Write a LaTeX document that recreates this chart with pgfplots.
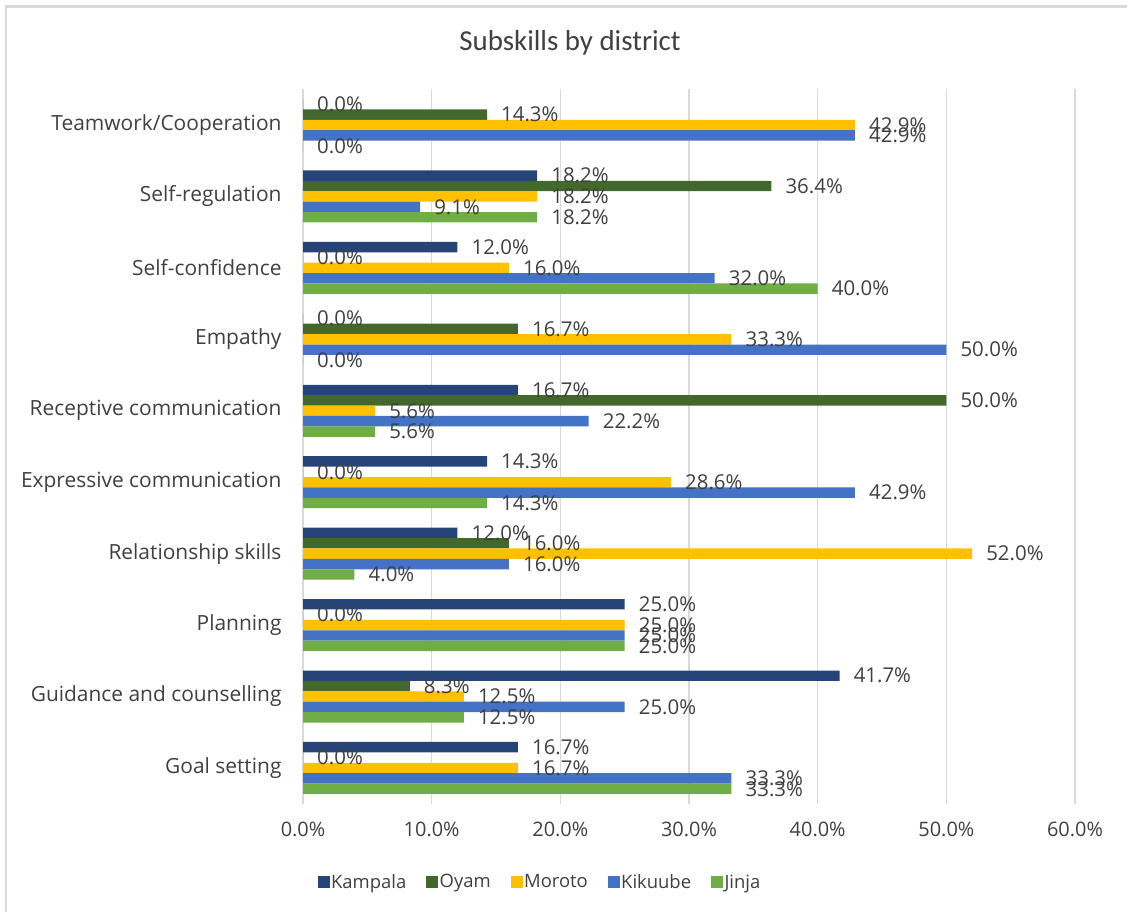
\documentclass[border=0pt]{standalone}
\usepackage{pgfplots}
\pgfplotsset{compat=1.18}
\usepackage{fontspec}
\setmainfont{Open Sans}
\newfontfamily\titlefont{Carlito}
\definecolor{kampala}{HTML}{264478}
\definecolor{oyam}{HTML}{43682B}
\definecolor{moroto}{HTML}{FFC000}
\definecolor{kikuube}{HTML}{4472C4}
\definecolor{jinja}{HTML}{70AD47}
\definecolor{gridgray}{HTML}{D9D9D9}
\definecolor{textgray}{HTML}{404040}
\pgfplotsset{
  sq/.style={draw=none, fill=#1},
  sqleg/.style={legend image code/.code={\fill[#1] (0bp,-5.5bp) rectangle (11bp,5.5bp);}},
}
\begin{document}
\begin{tikzpicture}[x=1bp,y=1bp]
\useasboundingbox (0,0) rectangle (1127,912);
\fill[white] (0,0) rectangle (1127,912);
\draw[color=gridgray, line width=2.5bp] (6,0) -- (6,905.5) -- (1127,905.5);
\node[font=\titlefont\fontsize{29}{34}\selectfont, text=textgray] at (570,869) {Subskills by district};
\begin{axis}[
  at={(303bp,108.3bp)}, anchor=south west,
  scale only axis, width=772bp, height=714.4bp,
  xbar,
  bar width=0.1456,
  xmin=0, xmax=60, ymin=-0.5, ymax=9.5,
  xtick={0,10,...,60},
  ytick={0,...,9},
  yticklabels={Goal setting, Guidance and counselling, Planning, Relationship skills, Expressive communication, Receptive communication, Empathy, Self-confidence, Self-regulation, Teamwork/Cooperation},
  xticklabel={\pgfmathprintnumber[fixed,fixed zerofill,precision=1,assume math mode=true]{\tick}\%},
  xticklabel style={font=\fontsize{20}{24}\selectfont, text=textgray, yshift=-15bp},
  yticklabel style={font=\fontsize{21}{24}\selectfont, text=textgray, xshift=-18bp},
  axis line style={draw=none},
  major tick length=0pt,
  tick style={draw=none},
  xmajorgrids,
  grid style={draw=gridgray, line width=1.5bp},
  point meta=x,
  nodes near coords={\pgfmathprintnumber[fixed,fixed zerofill,precision=1,assume math mode=true]{\pgfplotspointmeta}\%},
  nodes near coords style={font=\fontsize{20.5}{24}\selectfont, text=textgray, anchor=west, inner sep=0pt, xshift=14bp},
]
\addplot[sq=kampala, bar shift=0.2912] coordinates {(16.7,0) (41.7,1) (25.0,2) (12.0,3) (14.3,4) (16.7,5) (0,6) (12.0,7) (18.2,8) (0,9)};
\addplot[sq=oyam, bar shift=0.1456] coordinates {(0,0) (8.3,1) (0,2) (16.0,3) (0,4) (50.0,5) (16.7,6) (0,7) (36.4,8) (14.3,9)};
\addplot[sq=moroto, bar shift=0] coordinates {(16.7,0) (12.5,1) (25.0,2) (52.0,3) (28.6,4) (5.6,5) (33.3,6) (16.0,7) (18.2,8) (42.9,9)};
\addplot[sq=kikuube, bar shift=-0.1456] coordinates {(33.3,0) (25.0,1) (25.0,2) (16.0,3) (42.9,4) (22.2,5) (50.0,6) (32.0,7) (9.1,8) (42.9,9)};
\addplot[sq=jinja, bar shift=-0.2912] coordinates {(33.3,0) (12.5,1) (25.0,2) (4.0,3) (14.3,4) (5.6,5) (0,6) (40.0,7) (18.2,8) (0,9)};
\end{axis}
\begin{axis}[
  at={(303bp,108.3bp)}, anchor=south west,
  scale only axis, width=772bp, height=714.4bp,
  hide axis, xmin=0, xmax=1, ymin=0, ymax=1,
  legend style={at={(0.307,-0.1096)}, anchor=center, draw=none, fill=none,
    font=\fontsize{18.5}{22}\selectfont, text=textgray,
    /tikz/every even column/.append style={column sep=18bp},
    nodes={inner sep=2bp}},
  legend columns=5,
]
\addlegendimage{sqleg=kampala}\addlegendentry{Kampala}
\addlegendimage{sqleg=oyam}\addlegendentry{Oyam}
\addlegendimage{sqleg=moroto}\addlegendentry{Moroto}
\addlegendimage{sqleg=kikuube}\addlegendentry{Kikuube}
\addlegendimage{sqleg=jinja}\addlegendentry{Jinja}
\end{axis}
\end{tikzpicture}
\end{document}
